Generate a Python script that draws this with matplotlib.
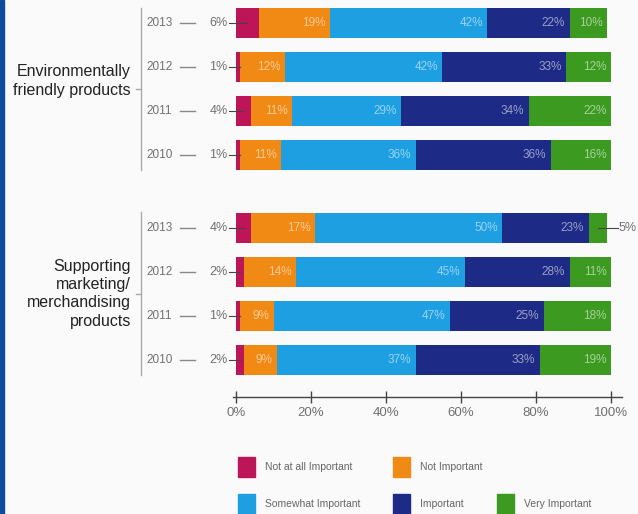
import numpy as np
import matplotlib.pyplot as plt
from matplotlib.patches import Rectangle

plt.rcParams['font.family'] = ['Liberation Sans', 'DejaVu Sans']

# survey shares (%) per year, two product groups
groups = ["Environmentally\nfriendly products",
          "Supporting\nmarketing/\nmerchandising\nproducts"]
years = ["2013", "2012", "2011", "2010"]
levels = ["Not at all Important", "Not Important", "Somewhat Important",
          "Important", "Very Important"]
colors = ["#bc1558", "#f08a14", "#1e9fe2", "#1d2b86", "#3b9a1f"]

env = [[6, 19, 42, 22, 10],
       [1, 12, 42, 33, 12],
       [4, 11, 29, 34, 22],
       [1, 11, 36, 36, 16]]
support = [[4, 17, 50, 23, 5],
           [2, 14, 45, 28, 11],
           [1, 9, 47, 25, 18],
           [2, 9, 37, 33, 19]]

xticks = [0, 20, 40, 60, 80, 100]

W, H = 638, 514
fig = plt.figure(figsize=(W / 100, H / 100), dpi=100, facecolor="#fafafa")

# overlay in pixel units for decorations
bg = fig.add_axes([0, 0, 1, 1])
bg.set_xlim(0, W)
bg.set_ylim(H, 0)
bg.axis("off")
bg.add_patch(Rectangle((0, 0), 4, H, color="#0c4c9c"))

# bar axes: 0..100 across, rows spaced one unit apart
ax = fig.add_axes([236 / W, (H - 397) / H, 375 / W, 396 / H])
ax.patch.set_alpha(0)
ax.set_xlim(0, 100)
ax.set_ylim(8.5, -0.5)
for s in ax.spines.values():
    s.set_visible(False)

gray = "#707070"
pos = [np.arange(4), np.arange(4) + 4.65]
label_shift = [-0.18, 0.0]
for gi, data in enumerate([env, support]):
    data = np.array(data)
    ys = pos[gi]
    left = np.zeros(4)
    for k in range(5):
        vals = data[:, k]
        ax.barh(ys, vals, left=left, height=0.68, color=colors[k])
        for y, l, v in zip(ys, left, vals):
            if v >= 8:
                ax.text(l + v - 1.2, y, f"{v}%", ha="right", va="center",
                        fontsize=8.5, color="white", alpha=0.55)
            elif k == 0:
                ax.text(-2.2, y, f"{v}%", ha="right", va="center",
                        fontsize=9, color=gray, clip_on=False)
                ax.plot([-2.0, l + max(v, 2) / 2], [y, y], color="#444",
                        lw=0.8, clip_on=False)
            elif k == 4:
                ax.text(102.0, y, f"{v}%", ha="left", va="center",
                        fontsize=9, color=gray, clip_on=False)
                ax.plot([l + v / 2, 101.8], [y, y], color="#444",
                        lw=0.8, clip_on=False)
        left = left + vals
    for y, yr in zip(ys, years):
        ax.text(-24.0, y, yr, ha="left", va="center",
                fontsize=8.5, color=gray, clip_on=False)
        ax.plot([-15.0, -11.0], [y, y], color="#888", lw=1, clip_on=False)
    # bracket and group label
    ax.plot([-25.3, -25.3], [ys[0] - 0.35, ys[-1] + 0.35], color="#aaa",
            lw=1, clip_on=False)
    mid = ys.mean()
    ax.plot([-26.6, -25.3], [mid, mid], color="#aaa", lw=1, clip_on=False)
    ax.text(-28.0, mid + label_shift[gi], groups[gi], ha="right", va="center",
            fontsize=11.5, color="#222", linespacing=1.28, clip_on=False)

ax.plot([-0.8, 103], [8.5, 8.5], color="#444", lw=1, clip_on=False)
ax.set_yticks([])
ax.set_xticks(xticks)
ax.set_xticklabels([f"{t}%" for t in xticks], fontsize=9.5, color=gray)
ax.tick_params(axis="x", direction="inout", length=9, width=1,
               color="#444", pad=3)

# legend
leg = [(238, 467, 0), (393, 467, 1), (238, 504, 2), (393, 504, 3), (497, 504, 4)]
for x, y, k in leg:
    bg.add_patch(Rectangle((x, y - 10), 17, 20, color=colors[k]))
    bg.text(x + 27, y, levels[k], ha="left", va="center", fontsize=7.5,
            color="#666")

fig.savefig("out.png", dpi=100, facecolor=fig.get_facecolor())
